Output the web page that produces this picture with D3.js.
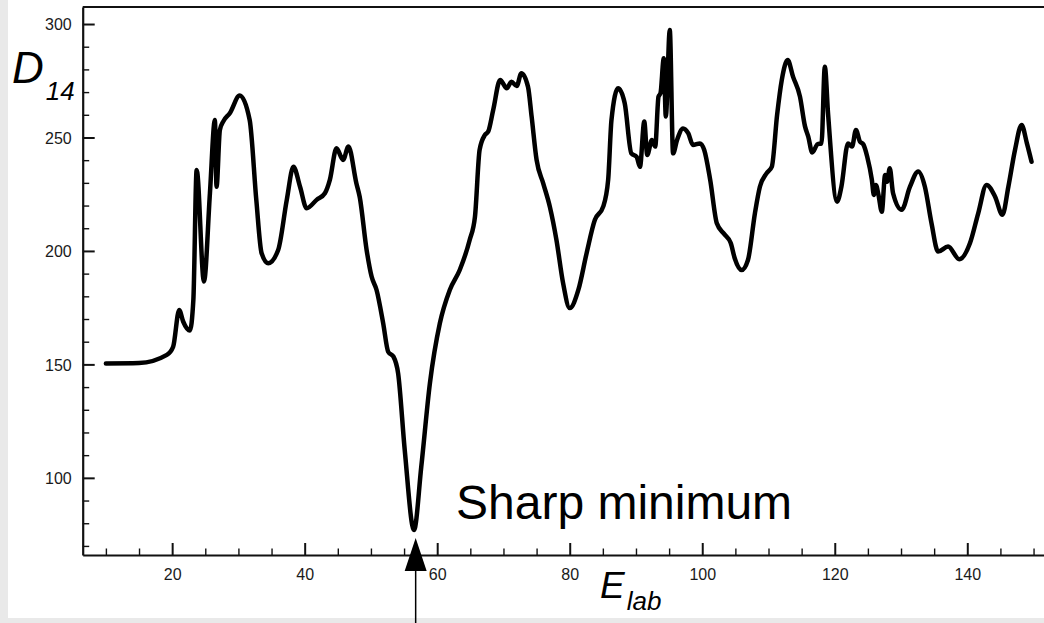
<!DOCTYPE html>
<html>
<head>
<meta charset="utf-8">
<script src="https://cdn.jsdelivr.net/npm/d3@7"></script>
<style>
  html, body { margin: 0; padding: 0; background: #e9e9e9; }
  svg { display: block; }
  text { font-family: "Liberation Sans", Arial, Helvetica, sans-serif; }
</style>
</head>
<body>
<svg id="chart" width="1044" height="623"></svg>
<script>
// Lab energy (x) and D14 (y) samples along the curve
const energy = [
  10, 15, 19.2, 20.15, 21.06, 21.66, 22.67, 23.2, 23.7, 24.8,
  25.7, 26.45, 26.7, 27.2, 27.7, 28.7, 30.2, 31.7, 32.7, 33.5,
  34.5, 36.0, 37.3, 38.3, 39.3, 40.3, 41.8, 43.05, 43.8, 44.8,
  45.8, 46.6, 47.8, 48.3, 49.35, 50.1, 50.85, 51.85, 52.6, 53.4,
  54.1, 55.1, 56.5, 57.6, 58.9, 60.4, 61.9, 63.4, 64.9, 65.7,
  66.4, 67.2, 67.7, 68.45, 69.5, 70.5, 71.2, 72.0, 72.7, 73.7,
  74.25, 75.0, 76.0, 77.0, 78.0, 79.0, 80.0, 81.3, 82.55, 83.8,
  85.05, 85.8, 86.3, 87.3, 88.3, 89.3, 90.1, 90.6, 91.25, 91.7,
  92.4, 92.9, 93.4, 93.7, 94.2, 94.5, 95.1, 95.6, 96.2, 97.1,
  97.9, 98.6, 99.65, 100.3, 101.2, 102.2, 103.3, 104.3, 104.9, 105.95,
  106.9, 107.95, 108.7, 109.7, 110.5, 111.3, 112.0, 112.9, 113.7, 114.75,
  115.5, 116.0, 116.6, 117.4, 118.0, 118.5, 119.0, 120.35, 121.0, 122.0,
  122.6, 123.2, 123.8, 124.3, 124.9, 125.6, 125.9, 126.2, 126.6, 127.1,
  127.6, 127.9, 128.3, 128.8, 130.1, 131.35, 132.6, 133.6, 134.6, 135.6,
  137.1, 138.8, 140.4, 141.65, 142.9, 144.2, 145.3, 146.2, 147.2, 148.2,
  149.0, 149.7
];
const d14 = [
  150.4, 150.6, 154.2, 157.8, 174.0, 168.9, 164.9, 178.4, 235.7, 186.5,
  225.4, 257.7, 228.3, 253.3, 257.0, 260.7, 268.5, 257.7, 222.5, 199.0,
  194.6, 200.4, 222.5, 237.1, 228.3, 218.8, 222.5, 225.4, 231.3, 245.2,
  240.1, 246.0, 229.8, 223.9, 200.4, 188.7, 182.8, 168.1, 155.6, 153.4,
  146.1, 112.3, 77.0, 105.0, 141.7, 168.1, 182.8, 191.6, 204.8, 215.1,
  244.5, 251.1, 252.6, 262.1, 275.3, 271.7, 274.6, 272.7, 278.3, 272.4,
  259.2, 240.1, 229.8, 219.5, 204.8, 185.8, 174.8, 182.8, 199.0, 213.7,
  219.5, 231.3, 257.7, 271.7, 265.1, 243.0, 241.5, 237.1, 257.0, 242.3,
  248.9, 246.0, 268.0, 269.5, 284.9, 259.2, 297.4, 243.0, 248.9, 254.0,
  251.8, 246.7, 247.4, 244.5, 231.3, 212.2, 207.5, 203.5, 196.8, 191.6,
  196.0, 216.6, 228.3, 234.2, 237.1, 260.0, 275.3, 284.1, 276.8, 268.0,
  255.0, 250.4, 243.4, 247.0, 247.4, 281.2, 260.0, 221.7, 228.3, 247.4,
  246.0, 253.3, 248.2, 247.0, 241.5, 231.3, 224.7, 229.1, 224.7, 217.3,
  233.5, 230.5, 236.4, 225.4, 218.1, 228.3, 235.0, 228.3, 212.2, 199.7,
  201.9, 196.3, 203.4, 216.6, 229.1, 223.9, 215.9, 228.3, 244.5, 255.5,
  247.4, 239.3
];

// Axis ticks
const xMajorTicks = [20, 40, 60, 80, 100, 120, 140];
const xMinorTicks = d3.range(10, 151, 5).filter(v => v % 20 !== 0);
const yMajorTicks = [100, 150, 200, 250, 300];
const yMinorTicks = d3.range(70, 301, 10).filter(v => v % 50 !== 0);

// Annotation
const annotationText = "Sharp minimum";
const arrowEnergy = 56.75;

const svg = d3.select("#chart");
const W = 1044, H = 623;

// Page panel
svg.append("rect").attr("x", 0).attr("y", 0).attr("width", W).attr("height", H).attr("fill", "#e9e9e9");
svg.append("rect").attr("x", 8).attr("y", 0).attr("width", W - 8).attr("height", 618).attr("fill", "#ffffff");

const plot = { left: 82.7, right: 1046.8, top: 7, bottom: 555 };
const x = d3.scaleLinear().domain([6.5, 152]).range([plot.left, plot.right]);
const y = d3.scaleLinear().domain([66, 307.5]).range([plot.bottom, plot.top]);

const ink = "#111";

// Top frame line
svg.append("line")
  .attr("x1", plot.left).attr("x2", W).attr("y1", plot.top).attr("y2", plot.top)
  .attr("stroke", ink).attr("stroke-width", 2);

// X axis (ticks point inward)
const gx = svg.append("g").attr("transform", `translate(0,${plot.bottom})`);
gx.call(d3.axisBottom(x).tickValues(xMinorTicks).tickSize(-6.5).tickSizeOuter(0).tickFormat(""))
  .call(g => g.select(".domain").remove())
  .call(g => g.selectAll("line").attr("stroke", ink).attr("stroke-width", 1.4));
const gxMaj = svg.append("g").attr("transform", `translate(0,${plot.bottom})`);
gxMaj.call(d3.axisBottom(x).tickValues(xMajorTicks).tickSize(-12).tickSizeOuter(0).tickPadding(13.5))
  .call(g => g.select(".domain").attr("stroke", ink).attr("stroke-width", 2.2))
  .call(g => g.selectAll("line").attr("stroke", ink).attr("stroke-width", 2))
  .call(g => g.selectAll("text").attr("font-size", 16).attr("fill", "#1a1a1a"));

// Y axis (ticks point inward)
const gy = svg.append("g").attr("transform", `translate(${plot.left},0)`);
gy.call(d3.axisLeft(y).tickValues(yMinorTicks).tickSize(-6.5).tickSizeOuter(0).tickFormat(""))
  .call(g => g.select(".domain").remove())
  .call(g => g.selectAll("line").attr("stroke", ink).attr("stroke-width", 1.4));
const gyMaj = svg.append("g").attr("transform", `translate(${plot.left},0)`);
gyMaj.call(d3.axisLeft(y).tickValues(yMajorTicks).tickSize(-12).tickSizeOuter(0).tickPadding(11))
  .call(g => g.select(".domain").attr("stroke", ink).attr("stroke-width", 2.2))
  .call(g => g.selectAll("line").attr("stroke", ink).attr("stroke-width", 2))
  .call(g => g.selectAll("text").attr("font-size", 16).attr("fill", "#1a1a1a").attr("dy", "0.36em"));

// Data curve
const pts = energy.map((e, i) => [e, d14[i]]);
const line = d3.line().x(d => x(d[0])).y(d => y(d[1])).curve(d3.curveMonotoneX);
svg.append("path")
  .datum(pts)
  .attr("d", line)
  .attr("fill", "none")
  .attr("stroke", "#000")
  .attr("stroke-width", 4.5)
  .attr("stroke-linejoin", "round")
  .attr("stroke-linecap", "round");

// Axis titles
const yTitle = svg.append("text").attr("x", 12).attr("y", 83).attr("font-style", "italic").attr("fill", "#000");
yTitle.append("tspan").attr("font-size", 44).text("D");
yTitle.append("tspan").attr("font-size", 26).attr("dx", 2).attr("dy", 17).text("14");

const xTitle = svg.append("text").attr("x", 600).attr("y", 598).attr("font-style", "italic").attr("fill", "#000");
xTitle.append("tspan").attr("font-size", 37).text("E");
xTitle.append("tspan").attr("font-size", 26).attr("dx", 2).attr("dy", 12).text("lab");

// Annotation text and arrow at the minimum
const minD = d3.min(d14);
svg.append("text")
  .attr("x", 456).attr("y", 519)
  .attr("font-size", 48).attr("fill", "#000")
  .text(annotationText);

const ax = x(arrowEnergy);
const tipY = y(minD) + 8;
svg.append("line")
  .attr("x1", ax).attr("x2", ax).attr("y1", tipY + 30).attr("y2", H)
  .attr("stroke", "#000").attr("stroke-width", 1.5);
svg.append("path")
  .attr("d", `M${ax},${tipY} L${ax - 11},${tipY + 33} L${ax + 11},${tipY + 33} Z`)
  .attr("fill", "#000");
</script>
</body>
</html>
